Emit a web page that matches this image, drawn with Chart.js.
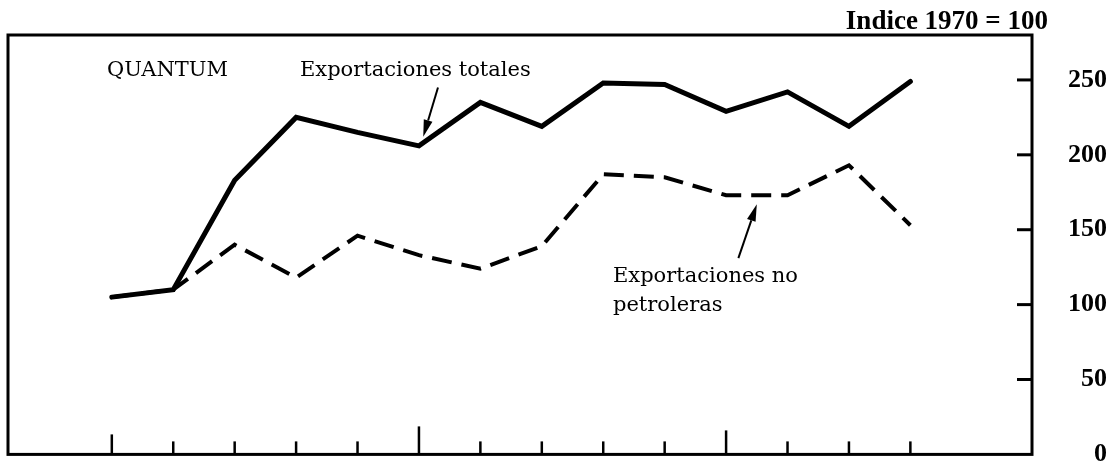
<!DOCTYPE html>
<html>
<head>
<meta charset="utf-8">
<script src="https://cdn.jsdelivr.net/npm/chart.js@4.4.0/dist/chart.umd.min.js"></script>
<style>
    body { margin: 0; background: #fff; }
    #wrap { width: 1118px; height: 470px; }
</style>
</head>
<body>
<div id="wrap"><canvas id="quantum-chart" width="1118" height="470"></canvas></div>
<script>
// Quantum de exportaciones, indice 1970 = 100

const years = [1970, 1971, 1972, 1973, 1974, 1975, 1976, 1977, 1978, 1979, 1980, 1981, 1982, 1983];
const exportTotales = [105, 110, 183, 225, 215, 206, 235, 219, 248, 247, 229, 242, 219, 249];
const exportNoPetroleras = [105, 110, 140, 118, 146, 133, 124, 139, 187, 185, 173, 173, 193, 153];
const yTickValues = [0, 50, 100, 150, 200, 250];

const SERIF = '"Liberation Serif", "DejaVu Serif", serif';
const WIDE_SERIF = '"DejaVu Serif", "Liberation Serif", serif';

const toPoints = (vals) => vals.map((v, i) => ({ x: years[i], y: v }));

// frame, inward ticks, texts and arrows
const framePlugin = {
    id: 'frame',
    afterDraw(chart) {
        const { ctx, chartArea: a, scales } = chart;
        const xs = scales.x, ys = scales.y;
        ctx.save();
        ctx.strokeStyle = '#000';
        ctx.fillStyle = '#000';

        ctx.lineWidth = 3;
        ctx.strokeRect(a.left, a.top, a.right - a.left, a.bottom - a.top);

        // year ticks pointing up from the bottom
        ctx.lineWidth = 2.5;
        years.forEach((yr, i) => {
            const px = xs.getPixelForValue(yr);
            const len = i === 5 ? 28 : (i === 10 ? 24 : (i === 0 ? 20 : 13));
            ctx.beginPath();
            ctx.moveTo(px, a.bottom);
            ctx.lineTo(px, a.bottom - len);
            ctx.stroke();
        });

        // value ticks pointing left from the right edge
        ctx.lineWidth = 3;
        yTickValues.forEach(v => {
            if (v === 0) return;
            const py = ys.getPixelForValue(v);
            ctx.beginPath();
            ctx.moveTo(a.right, py);
            ctx.lineTo(a.right - 15, py);
            ctx.stroke();
        });

        ctx.textBaseline = 'middle';
        ctx.textAlign = 'right';
        ctx.font = 'bold 27px ' + SERIF;
        ctx.fillText('Indice 1970 = 100', 1048, 22);

        ctx.textAlign = 'left';
        ctx.font = '21px ' + WIDE_SERIF;
        ctx.fillText('QUANTUM', 107, 71);
        ctx.fillText('Exportaciones totales', 300, 71);
        ctx.fillText('Exportaciones no', 613, 277);
        ctx.fillText('petroleras', 613, 306);

        drawArrow(ctx, xs.getPixelForValue(1975.31), ys.getPixelForValue(245),
                       xs.getPixelForValue(1975.07), ys.getPixelForValue(212));
        drawArrow(ctx, xs.getPixelForValue(1980.2), ys.getPixelForValue(131),
                       xs.getPixelForValue(1980.5), ys.getPixelForValue(167));
        ctx.restore();
    }
};

function drawArrow(ctx, x1, y1, x2, y2) {
    const ang = Math.atan2(y2 - y1, x2 - x1);
    const head = 17, half = 4.5;
    ctx.lineWidth = 2;
    ctx.beginPath();
    ctx.moveTo(x1, y1);
    ctx.lineTo(x2 - Math.cos(ang) * head, y2 - Math.sin(ang) * head);
    ctx.stroke();
    ctx.beginPath();
    ctx.moveTo(x2, y2);
    ctx.lineTo(x2 - Math.cos(ang) * head - Math.sin(ang) * half, y2 - Math.sin(ang) * head + Math.cos(ang) * half);
    ctx.lineTo(x2 - Math.cos(ang) * head + Math.sin(ang) * half, y2 - Math.sin(ang) * head - Math.cos(ang) * half);
    ctx.closePath();
    ctx.fill();
}

new Chart(document.getElementById('quantum-chart'), {
    type: 'line',
    data: {
        datasets: [
            {
                label: 'Exportaciones totales',
                data: toPoints(exportTotales),
                borderColor: '#000',
                borderWidth: 5,
                borderCapStyle: 'round',
                pointRadius: 0,
                tension: 0
            },
            {
                label: 'Exportaciones no petroleras',
                data: toPoints(exportNoPetroleras),
                borderColor: '#000',
                borderWidth: 4,
                borderDash: [20, 10],
                pointRadius: 0,
                tension: 0
            }
        ]
    },
    options: {
        responsive: false,
        animation: false,
        layout: { padding: { left: 8, right: 11, top: 35, bottom: 12 } },
        plugins: {
            legend: { display: false },
            tooltip: { enabled: false }
        },
        scales: {
            x: {
                type: 'linear',
                display: false,
                min: 1968.31,
                max: 1984.98
            },
            y: {
                position: 'right',
                min: 0,
                max: 280,
                afterBuildTicks: (scale) => {
                    scale.ticks = yTickValues.map(v => ({ value: v }));
                },
                afterFit: (scale) => { scale.width = 75; },
                border: { display: false },
                grid: { display: false, drawTicks: false },
                ticks: {
                    crossAlign: 'far',
                    padding: 0,
                    color: '#000',
                    font: { family: SERIF, size: 26, weight: 'bold' }
                }
            }
        }
    },
    plugins: [framePlugin]
});
</script>
</body>
</html>
